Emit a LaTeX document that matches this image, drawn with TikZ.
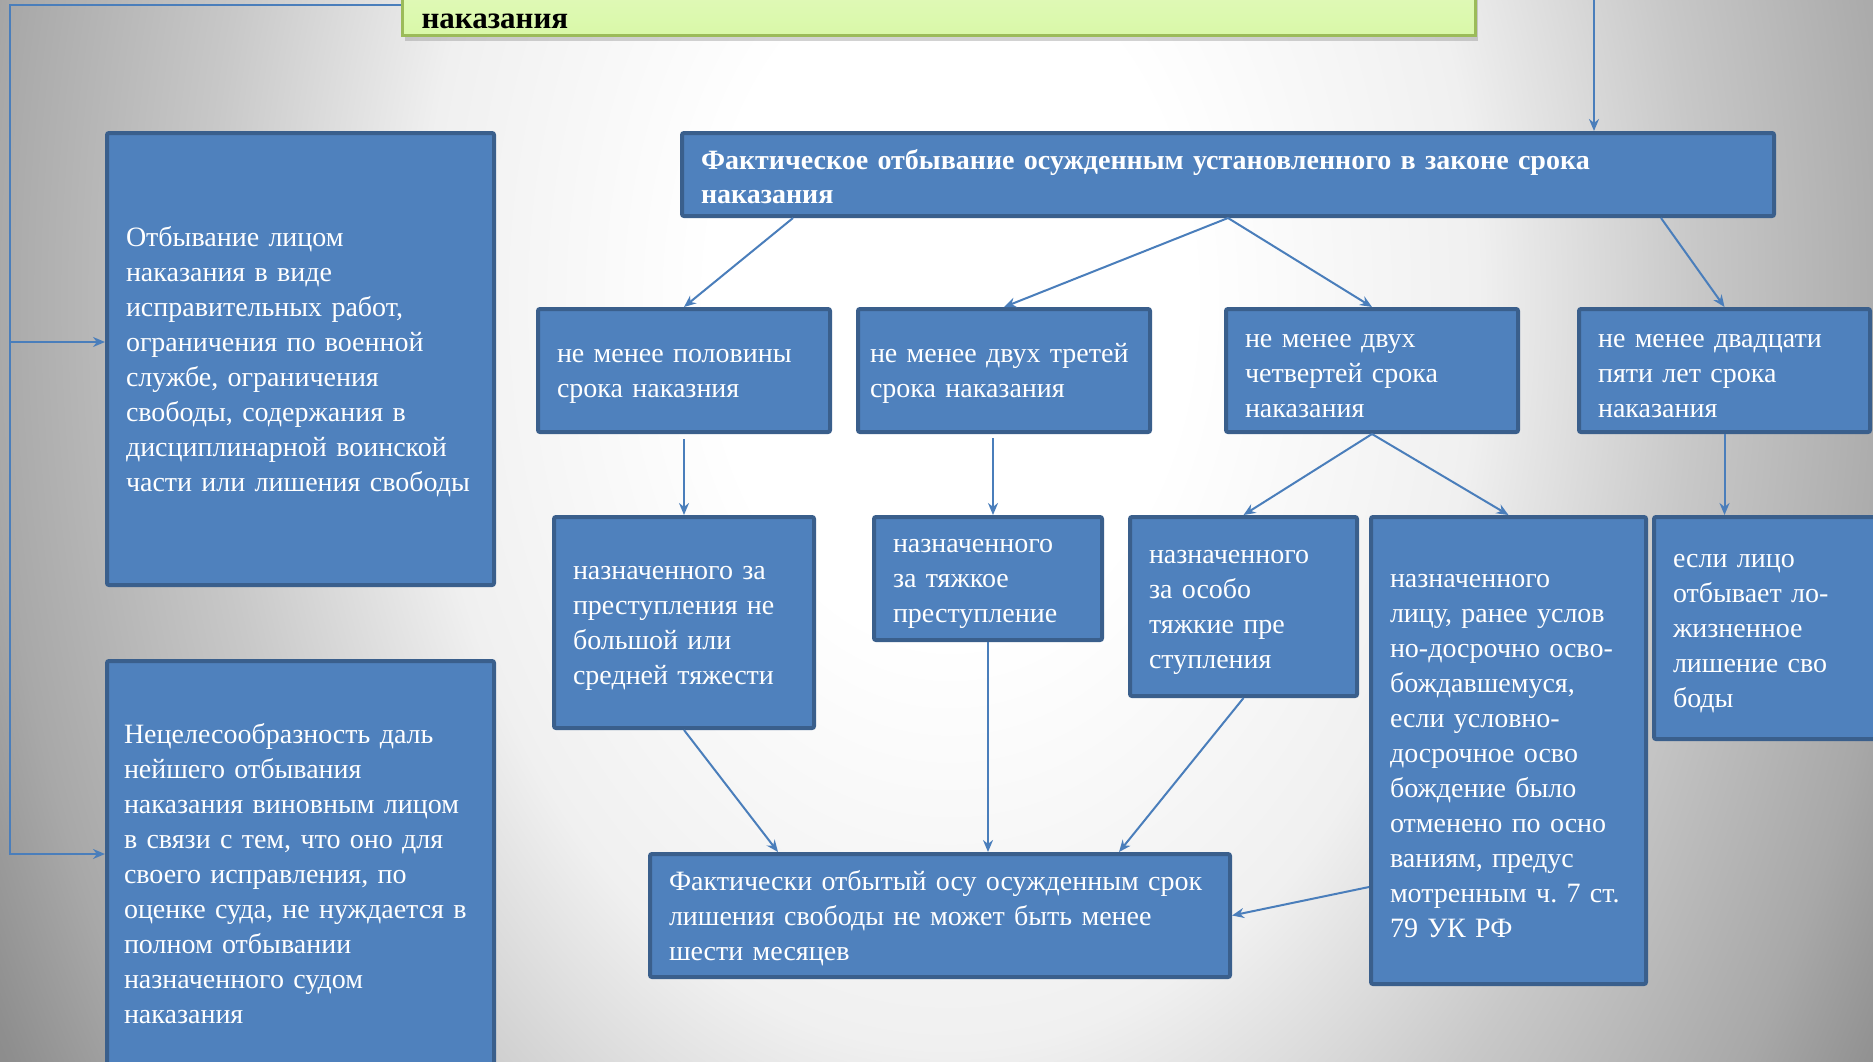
\documentclass[tikz,border=0pt]{standalone}
\usepackage{fontspec}
\setmainfont{Liberation Serif}
\usetikzlibrary{arrows.meta,shadows}
\definecolor{boxfill}{HTML}{4F81BD}
\definecolor{boxborder}{HTML}{3A5F8C}
\definecolor{linkblue}{HTML}{4A7EBB}
\definecolor{bgA}{RGB}{240,240,240}
\definecolor{bgB}{RGB}{200,200,200}
\definecolor{bgC}{RGB}{168,168,168}
\definecolor{bgD}{RGB}{142,142,142}
\definecolor{bgE}{RGB}{128,128,128}
\definecolor{greentop}{HTML}{E9FCCD}
\definecolor{greenbot}{HTML}{D9F8A8}
\definecolor{greenborder}{HTML}{9BBB59}
\pgfdeclareradialshading{bgshade}{\pgfpoint{0bp}{0bp}}{color(0bp)=(white); color(5bp)=(white); color(11bp)=(bgA); color(15.5bp)=(bgB); color(20bp)=(bgC); color(22.5bp)=(bgD); color(25bp)=(bgE); color(50bp)=(bgE)}
\frenchspacing
\begin{document}
\begin{tikzpicture}[x=0.5pt,y=-0.5pt,
  box/.style={draw=boxborder, fill=boxfill, line width=2pt, rounded corners=1pt,
    text=white, anchor=north west, align=left, inner xsep=9.5pt, inner ysep=0pt,
    font=\fontsize{14}{17.5}\selectfont, execute at begin node={\strut}},
  link/.style={draw=linkblue, line width=1pt, -{Stealth[length=6pt,width=5pt]}},
  plain/.style={draw=linkblue, line width=1pt}]
\useasboundingbox (0,0) rectangle (1873,1061);
\begin{scope}
  \clip (0,0) rectangle (1873,1061);
  \shade[shading=bgshade] (-250,-1400) rectangle (2150,2000);
\end{scope}

% title (cut at top)
\node[draw=greenborder, line width=1.5pt, top color=greentop, bottom color=greenbot,
  anchor=south west, minimum width=536.5pt, text width=517.5pt, align=left,
  inner xsep=9.5pt, inner ysep=3.5pt, text height=44pt, text depth=0pt,
  font=\bfseries\fontsize{15.5}{18}\selectfont,
  drop shadow={opacity=0.35, shadow xshift=1pt, shadow yshift=-2.5pt}]
  (title) at (401,37) {наказания};

% main box
\node[box, minimum width=546pt, text width=527pt, minimum height=41.5pt,
  font=\bfseries\fontsize{14}{17}\selectfont] (main) at (680,131)
  {Фактическое отбывание осужденным установленного в законе срока\\наказания};

% left boxes
\node[box, minimum width=193.5pt, text width=174.5pt, minimum height=226pt] (L1) at (105,131)
  {Отбывание лицом\\наказания в виде\\исправительных работ,\\ограничения по военной\\службе, ограничения\\свободы, содержания в\\дисциплинарной воинской\\части или лишения свободы};
\node[box, minimum width=193.5pt, text width=176.5pt, inner xsep=8.5pt, minimum height=210pt] (L2) at (105,659)
  {Нецелесообразность даль\\нейшего отбывания\\наказания виновным лицом\\в связи с тем, что оно для\\своего исправления, по\\оценке суда, не нуждается в\\полном отбывании\\назначенного судом\\наказания};

% row 2
\node[box, minimum width=146pt, text width=127pt, minimum height=61.5pt] (b1) at (536,307)
  {не менее половины\\срока наказния};
\node[box, minimum width=146pt, text width=134pt, inner xsep=6pt, minimum height=61.5pt] (b2) at (856,307)
  {не менее двух третей\\срока наказания};
\node[box, minimum width=146pt, text width=127pt, minimum height=61.5pt] (b3) at (1224,307)
  {не менее двух\\четвертей срока\\наказания};
\node[box, minimum width=145.5pt, text width=126.5pt, minimum height=61.5pt] (b4) at (1577,307)
  {не менее двадцати\\пяти лет срока\\наказания};

% row 3
\node[box, minimum width=130pt, text width=111pt, minimum height=105.5pt] (c1) at (552,515)
  {назначенного за\\преступления не\\большой или\\средней тяжести};
\node[box, minimum width=114pt, text width=95pt, minimum height=61.5pt] (c2) at (872,515)
  {назначенного\\за тяжкое\\преступление};
\node[box, minimum width=113.5pt, text width=94.5pt, minimum height=89.5pt] (c3) at (1128,515)
  {назначенного\\за особо\\тяжкие пре\\ступления};
\node[box, minimum width=137.5pt, text width=118.5pt, minimum height=233.5pt] (c4) at (1369,515)
  {назначенного\\лицу, ранее услов\\но-досрочно осво-\\бождавшемуся,\\если условно-\\досрочное осво\\бождение было\\отменено по осно\\ваниям, предус\\мотренным ч. 7 ст.\\79 УК РФ};
\node[box, minimum width=117.5pt, text width=98.5pt, minimum height=111pt] (c5) at (1652,515)
  {если лицо\\отбывает ло-\\жизненное\\лишение сво\\боды};

% bottom
\node[box, minimum width=290pt, text width=271pt, minimum height=61.5pt] (d) at (648,852)
  {Фактически отбытый осу осужденным срок\\лишения свободы не может быть менее\\шести месяцев};

% connectors
\draw[link] ([xshift=-217.5pt]main.south) -- (b1.north);
\draw[link] (main.south) -- (b2.north);
\draw[link] (main.south) -- (b3.north);
\draw[link] ([xshift=216.5pt]main.south) -- (b4.north);
\draw[link] ([yshift=-2.5pt]b1.south) -- (b1.south |- c1.north);
\draw[link] ([xshift=-5.5pt,yshift=-2pt]b2.south) -- ([xshift=-5.5pt]b2.south |- c2.north);
\draw[link] (b3.south) -- (c3.north);
\draw[link] (b3.south) -- (c4.north);
\draw[link] (b4.south) -- (b4.south |- c5.north);
\draw[link] (c1.south) -- ([xshift=-81pt]d.north);
\draw[link] (c2.south) -- (c2.south |- d.north);
\draw[link] (c3.south) -- ([xshift=89.5pt]d.north);
\draw[link] ([yshift=-68.25pt]c4.west) -- (d.east);

% left feed line
\coordinate (tl) at (10,5);
\coordinate (l1in) at ([yshift=8.5pt]L1.west);
\coordinate (l2in) at ([yshift=8.5pt]L2.west);
\draw[link] (title.west |- tl) -- (tl) |- (l2in);
\draw[link] (tl |- l1in) -- (l1in);

% right feed line
\coordinate (tr) at (1594,0);
\draw[link] (tr) -- (tr |- main.north);
\end{tikzpicture}
\end{document}
